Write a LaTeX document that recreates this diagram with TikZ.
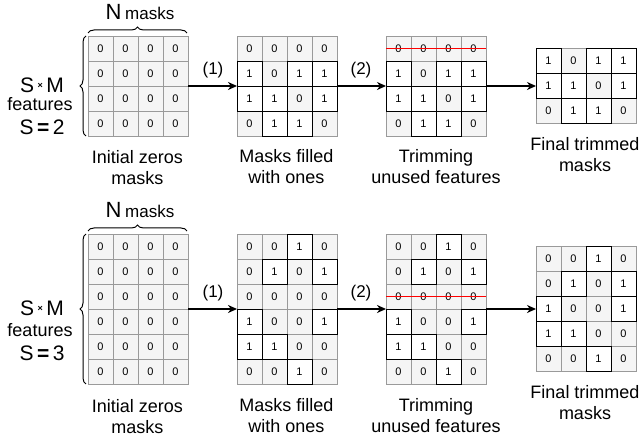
\documentclass[tikz,border=0pt]{standalone}
\usepackage{fontspec}
\setmainfont{Liberation Sans}
\usetikzlibrary{arrows.meta,decorations.pathreplacing}
\definecolor{cellgray}{HTML}{F5F5F5}
\definecolor{cellline}{HTML}{9A9A9A}
\tikzset{
  cellbase/.style={rectangle,minimum size=25pt,inner sep=0pt,outer sep=0pt,line width=0.8pt,font=\fontsize{11}{11}\selectfont},
  cell0/.style={cellbase,fill=cellgray,draw=cellline},
  cell1/.style={cellbase,fill=white,draw=cellline},
  edge0/.style={draw=none},
  edge1/.style={draw=black,line width=0.9pt},
  gridbox/.style={rectangle,inner sep=0pt,outer sep=0pt,draw=none},
  flow/.style={line width=1.6pt,-{Stealth[length=9pt,width=8pt]}},
  lbl/.style={align=center,font=\fontsize{18}{21}\selectfont},
  steplbl/.style={font=\fontsize{17}{17}\selectfont},
  trim/.style={red,line width=1.8pt},
  bracedec/.style={decorate,decoration={brace,amplitude=6pt},line width=1pt},
}
\newcommand\maskgrid[5]{% name, left x, top y, nrows, rows
  \node[gridbox,minimum width=100pt,minimum height=#4*25pt,anchor=north west] (#1) at (#2,#3) {};
  \foreach \rowvals [count=\r] in {#5} {
    \foreach \v [count=\c] in \rowvals {
      \node[cell\v] (#1-\r-\c) at (#2+\c*25-12.5,#3+\r*25-12.5) {\v};
    }
  }
  \foreach \rowvals [count=\r] in {#5} {
    \foreach \v [count=\c] in \rowvals {
      \path[edge\v] (#1-\r-\c.south west) rectangle (#1-\r-\c.north east);
    }
  }
}
\newcommand\smtext{{\fontsize{21}{21}\selectfont S\,\raisebox{4pt}{\fontsize{9}{9}\selectfont\bfseries ×}\,M}}
\newcommand\nmtext{{\fontsize{22}{22}\selectfont N\,\fontsize{17}{17}\selectfont masks}}
\begin{document}
\begin{tikzpicture}[x=1pt,y=-1pt]
\fill[white] (0,0) rectangle (641,438);
\useasboundingbox (0,0) rectangle (641,438);

% ---------- top row (S=2) ----------
\maskgrid{ta}{88}{36}{4}{{0,0,0,0},{0,0,0,0},{0,0,0,0},{0,0,0,0}}
\maskgrid{tb}{237}{36}{4}{{0,0,0,0},{1,0,1,1},{1,1,0,1},{0,1,1,0}}
\maskgrid{tc}{386}{36}{4}{{0,0,0,0},{1,0,1,1},{1,1,0,1},{0,1,1,0}}
\maskgrid{td}{536}{48.5}{3}{{1,0,1,1},{1,1,0,1},{0,1,1,0}}
\draw[trim] (tc-1-1.west) -- (tc-1-4.east);

\draw[flow] (ta.east) -- (tb.west);
\draw[flow] (tb.east) -- (tc.west);
\draw[flow] (tc.east) -- (td.west);
\node[steplbl] (t1) at (213,70) {(1)};
\node[steplbl] (t2) at (361,70) {(2)};

\coordinate (tbr1) at (88,33);
\coordinate (tbr2) at (187,33);
\draw[bracedec] (tbr1) -- (tbr2);
\node (tn) at (140,12) {\nmtext};
\coordinate (tlb1) at (86,136);
\coordinate (tlb2) at (86,36);
\draw[bracedec] (tlb1) -- (tlb2);
\node (tsm) at (42,85) {\smtext};
\node (tft) at (40,104) {\fontsize{18}{18}\selectfont features};
\node (tsv) at (42,127) {\fontsize{21}{21}\selectfont S\,{\bfseries =}\,2};

\node[lbl] (tla) at (137.5,167.5) {Initial zeros\\masks};
\node[lbl] (tlb) at (286.5,166.5) {Masks filled\\with ones};
\node[lbl] (tlc) at (436,167) {Trimming\\unused features};
\node[lbl] (tld) at (585,154.5) {Final trimmed\\masks};

% ---------- bottom row (S=3) ----------
\maskgrid{ba}{88}{234}{6}{{0,0,0,0},{0,0,0,0},{0,0,0,0},{0,0,0,0},{0,0,0,0},{0,0,0,0}}
\maskgrid{bb}{237}{234}{6}{{0,0,1,0},{0,1,0,1},{0,0,0,0},{1,0,0,1},{1,1,0,0},{0,0,1,0}}
\maskgrid{bc}{386}{234}{6}{{0,0,1,0},{0,1,0,1},{0,0,0,0},{1,0,0,1},{1,1,0,0},{0,0,1,0}}
\maskgrid{bd}{536}{246.5}{5}{{0,0,1,0},{0,1,0,1},{1,0,0,1},{1,1,0,0},{0,0,1,0}}
\draw[trim] (bc-3-1.west) -- (bc-3-4.east);

\draw[flow] (ba.east) -- (bb.west);
\draw[flow] (bb.east) -- (bc.west);
\draw[flow] (bc.east) -- (bd.west);
\node[steplbl] (b1) at (213,293) {(1)};
\node[steplbl] (b2) at (361,293) {(2)};

\coordinate (bbr1) at (88,231);
\coordinate (bbr2) at (187,231);
\draw[bracedec] (bbr1) -- (bbr2);
\node (bn) at (140,210) {\nmtext};
\coordinate (blb1) at (86,384);
\coordinate (blb2) at (86,234);
\draw[bracedec] (blb1) -- (blb2);
\node (bsm) at (42,308) {\smtext};
\node (bft) at (40,330) {\fontsize{18}{18}\selectfont features};
\node (bsv) at (42,353) {\fontsize{21}{21}\selectfont S\,{\bfseries =}\,3};

\node[lbl] (bla) at (137.5,416.5) {Initial zeros\\masks};
\node[lbl] (blb) at (286.5,415.5) {Masks filled\\with ones};
\node[lbl] (blc) at (436,416) {Trimming\\unused features};
\node[lbl] (bld) at (585,403) {Final trimmed\\masks};
\end{tikzpicture}
\end{document}
